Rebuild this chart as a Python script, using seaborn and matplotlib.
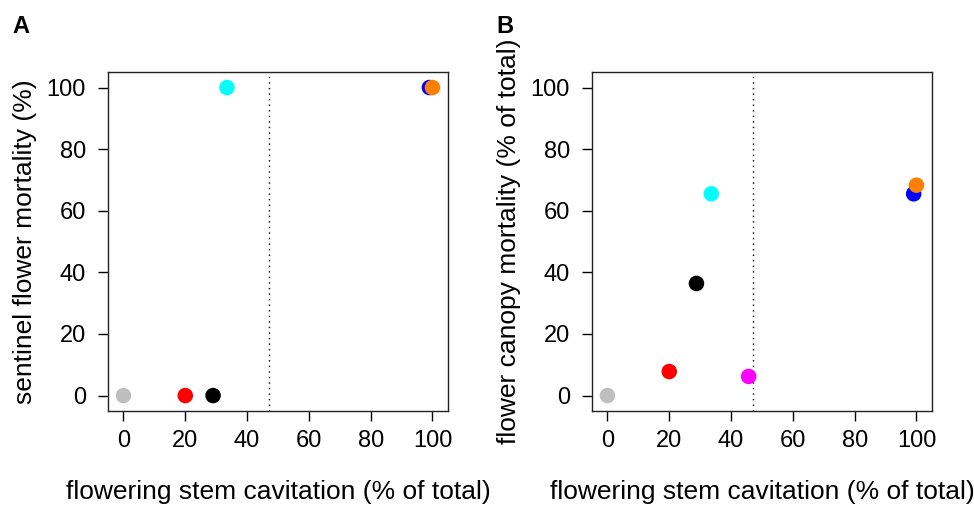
import pandas as pd
import matplotlib.pyplot as plt
import seaborn as sns

# valores
colores = ["#BEBEBE", "#FF0000", "#000000", "#00FFFF", "#0000FF", "#FF7F00"]
cav_a = [0, 20, 29, 33.5, 99, 100]
mort_a = [0, 0, 0, 100, 100, 100]

colores_b = ["#BEBEBE", "#FF0000", "#FF00FF", "#000000", "#00FFFF", "#0000FF", "#FF7F00"]
cav_b = [0, 20, 45.7, 28.8, 33.6, 99.1, 100]
mort_b = [0, 7.8, 6.2, 36.4, 65.5, 65.5, 68.3]

umbral = 47

df_a = pd.DataFrame({"cav": cav_a, "mort": mort_a, "col": colores})
df_b = pd.DataFrame({"cav": cav_b, "mort": mort_b, "col": colores_b})

sns.set_style("ticks")
plt.rcParams["font.family"] = ["Liberation Sans", "DejaVu Sans"]
plt.rcParams["text.color"] = "black"
plt.rcParams["axes.labelcolor"] = "black"
plt.rcParams["xtick.color"] = "black"
plt.rcParams["ytick.color"] = "black"

fig = plt.figure(figsize=(9.74, 5.08), dpi=100)
ax_a = fig.add_axes([0.1109, 0.191, 0.349, 0.667])
ax_b = fig.add_axes([0.6078, 0.191, 0.349, 0.667])

paneles = [
    (ax_a, df_a, "sentinel flower mortality (%)", "A"),
    (ax_b, df_b, "flower canopy mortality (% of total)", "B"),
]

for ax, df, ylab, letra in paneles:
    sns.scatterplot(data=df, x="cav", y="mort", hue="col",
                    palette={c: c for c in df["col"]}, s=125,
                    linewidth=0, legend=False, ax=ax, zorder=3)
    ax.axvline(umbral, color="black", linestyle=(0, (1, 3)), linewidth=1)
    ax.set_xlim(-5, 105)
    ax.set_ylim(-5, 105)
    ax.set_xticks(range(0, 101, 20))
    ax.set_yticks(range(0, 101, 20))
    ax.tick_params(axis="x", labelsize=17, length=7, width=1, pad=7)
    ax.tick_params(axis="y", labelsize=17, length=7, width=1, pad=9)
    ax.set_xlabel("flowering stem cavitation (% of total)", fontsize=19, labelpad=20)
    ax.set_ylabel(ylab, fontsize=19, labelpad=7)
    for sp in ax.spines.values():
        sp.set_visible(True)
        sp.set_linewidth(1)
        sp.set_color("#222222")
    fig.text(ax.get_position().x0 - 0.098, 0.948, letra, fontsize=17,
             fontweight="bold", va="center")

fig.savefig("out.png", dpi=100)
